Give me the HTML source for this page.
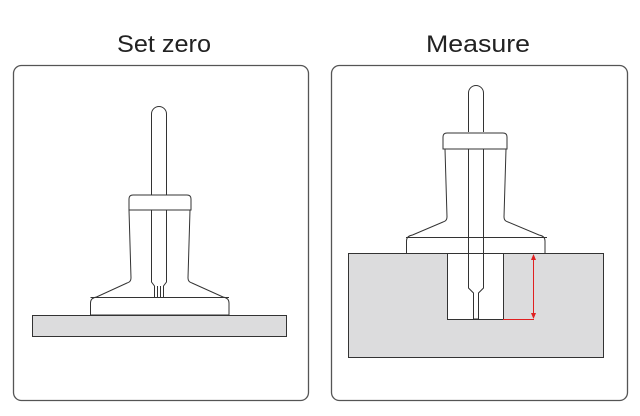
<!DOCTYPE html>
<html><head><style>
html,body{margin:0;padding:0;background:#fff;width:640px;height:416px;overflow:hidden}
svg{display:block}
text{font-family:"Liberation Sans",sans-serif;font-size:24px;fill:#222}
</style></head><body>
<svg width="640" height="416" viewBox="0 0 640 416">
<text x="164" y="52" text-anchor="middle" textLength="94" lengthAdjust="spacingAndGlyphs">Set zero</text>
<text x="478" y="52" text-anchor="middle" textLength="104" lengthAdjust="spacingAndGlyphs">Measure</text>
<rect x="13.5" y="65.5" width="295" height="335" rx="8" fill="#fff" stroke="#555" stroke-width="1.3"/>
<rect x="331.5" y="65.5" width="296" height="335" rx="8" fill="#fff" stroke="#555" stroke-width="1.3"/>
<g fill="#fff" stroke="#333" stroke-width="1">
<!-- left -->
<rect x="32.5" y="315.5" width="254" height="21" fill="#dcdcdd"/>
<path d="M151.5 195 V114 a7.5 7.5 0 0 1 15 0 V195"/>
<path d="M90.5 315 V303 q0 -5 6 -6 L127 283 q4 -1 4 -5 L129 210 H190 L188 278 q0 4 4 5 L223 297 q6 1 6 6 V315 Z"/>
<path d="M129 210 V199 q0 -4 4 -4 H187 q4 0 4 4 V210 Z"/>
<path d="M151.5 210 V282 l3 4 V297 M166.5 210 V282 l-3 4 V297 M157.5 297 V286 M160.5 297 V286" fill="none"/>
<line x1="90.5" y1="297.5" x2="229" y2="297.5"/>
<!-- right -->
<rect x="348.5" y="253.5" width="255" height="104" fill="#dcdcdd"/>
<rect x="447.5" y="253.5" width="56" height="66" fill="#fff"/>
<path d="M468.5 132 V93 a7.5 7.5 0 0 1 15 0 V132"/>
<path d="M406.5 253 V241 q0 -5 6 -6 L443 222 q4 -1 4 -5 L445 149 H506 L504 217 q0 4 4 5 L539 235 q6 1 6 6 V253"/>
<path d="M443 149 V137 q0 -4 4 -4 H503 q4 0 4 4 V149 Z"/>
<line x1="406" y1="237.5" x2="547" y2="237.5"/>
<path d="M468.5 149 V288 l5 5 V319 h5 V293 l5 -5 V149" fill="none"/>
</g>
<g stroke="#e02020" stroke-width="1" fill="#e02020">
<line x1="533.5" y1="256" x2="533.5" y2="317"/>
<line x1="503" y1="319.5" x2="534" y2="319.5"/>
<path d="M531 260 L533.5 254 L536 260 Z M531 313 L533.5 319 L536 313 Z" stroke="none"/>
</g>
</svg>
</body></html>
